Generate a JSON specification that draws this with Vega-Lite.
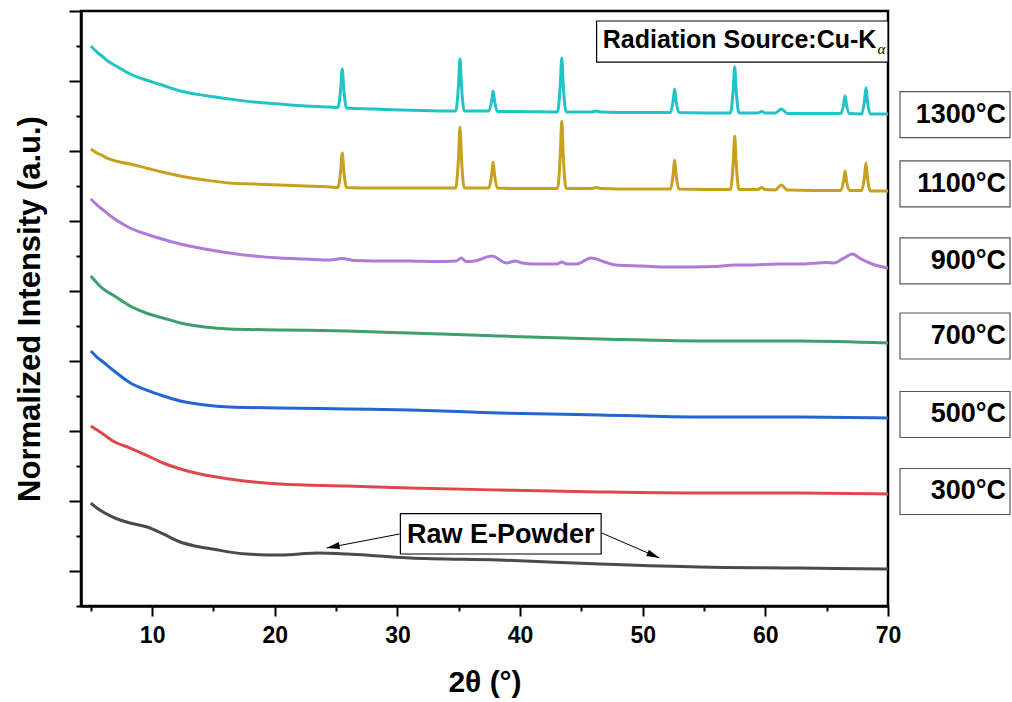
{
  "$schema": "https://vega.github.io/schema/vega-lite/v6.json",
  "width": 807,
  "height": 595,
  "autosize": "none",
  "padding": {"left": 81, "top": 11, "right": 124, "bottom": 96},
  "background": "white",
  "config": {
    "font": "Liberation Sans",
    "view": {"stroke": "black", "strokeWidth": 2.5}
  },
  "resolve": {"axis": {"x": "independent", "y": "independent"}},
  "layer": [
    {
      "data": {
        "values": [
          {"sample": "Raw E-Powder", "twoTheta": 5.0, "intensity": 0.971},
          {"sample": "Raw E-Powder", "twoTheta": 5.5, "intensity": 0.9},
          {"sample": "Raw E-Powder", "twoTheta": 6.0, "intensity": 0.843},
          {"sample": "Raw E-Powder", "twoTheta": 6.8, "intensity": 0.771},
          {"sample": "Raw E-Powder", "twoTheta": 8.2, "intensity": 0.686},
          {"sample": "Raw E-Powder", "twoTheta": 9.6, "intensity": 0.629},
          {"sample": "Raw E-Powder", "twoTheta": 10.9, "intensity": 0.529},
          {"sample": "Raw E-Powder", "twoTheta": 12.3, "intensity": 0.414},
          {"sample": "Raw E-Powder", "twoTheta": 13.5, "intensity": 0.357},
          {"sample": "Raw E-Powder", "twoTheta": 14.9, "intensity": 0.314},
          {"sample": "Raw E-Powder", "twoTheta": 17.7, "intensity": 0.243},
          {"sample": "Raw E-Powder", "twoTheta": 20.4, "intensity": 0.229},
          {"sample": "Raw E-Powder", "twoTheta": 22.0, "intensity": 0.243},
          {"sample": "Raw E-Powder", "twoTheta": 23.5, "intensity": 0.257},
          {"sample": "Raw E-Powder", "twoTheta": 25.9, "intensity": 0.243},
          {"sample": "Raw E-Powder", "twoTheta": 28.5, "intensity": 0.214},
          {"sample": "Raw E-Powder", "twoTheta": 31.0, "intensity": 0.186},
          {"sample": "Raw E-Powder", "twoTheta": 38.3, "intensity": 0.157},
          {"sample": "Raw E-Powder", "twoTheta": 46.5, "intensity": 0.1},
          {"sample": "Raw E-Powder", "twoTheta": 54.6, "intensity": 0.057},
          {"sample": "Raw E-Powder", "twoTheta": 62.8, "intensity": 0.043},
          {"sample": "Raw E-Powder", "twoTheta": 70.0, "intensity": 0.029},

          {"sample": "300°C", "twoTheta": 5.0, "intensity": 2.071},
          {"sample": "300°C", "twoTheta": 5.5, "intensity": 2.014},
          {"sample": "300°C", "twoTheta": 6.0, "intensity": 1.957},
          {"sample": "300°C", "twoTheta": 6.8, "intensity": 1.857},
          {"sample": "300°C", "twoTheta": 8.2, "intensity": 1.757},
          {"sample": "300°C", "twoTheta": 9.5, "intensity": 1.657},
          {"sample": "300°C", "twoTheta": 10.9, "intensity": 1.543},
          {"sample": "300°C", "twoTheta": 12.3, "intensity": 1.457},
          {"sample": "300°C", "twoTheta": 14.3, "intensity": 1.371},
          {"sample": "300°C", "twoTheta": 16.3, "intensity": 1.314},
          {"sample": "300°C", "twoTheta": 18.3, "intensity": 1.271},
          {"sample": "300°C", "twoTheta": 20.4, "intensity": 1.243},
          {"sample": "300°C", "twoTheta": 25.9, "intensity": 1.214},
          {"sample": "300°C", "twoTheta": 31.0, "intensity": 1.186},
          {"sample": "300°C", "twoTheta": 38.3, "intensity": 1.157},
          {"sample": "300°C", "twoTheta": 46.5, "intensity": 1.129},
          {"sample": "300°C", "twoTheta": 54.6, "intensity": 1.114},
          {"sample": "300°C", "twoTheta": 62.8, "intensity": 1.114},
          {"sample": "300°C", "twoTheta": 70.0, "intensity": 1.1},

          {"sample": "500°C", "twoTheta": 5.0, "intensity": 3.143},
          {"sample": "500°C", "twoTheta": 5.5, "intensity": 3.057},
          {"sample": "500°C", "twoTheta": 6.0, "intensity": 2.986},
          {"sample": "500°C", "twoTheta": 6.8, "intensity": 2.871},
          {"sample": "500°C", "twoTheta": 8.2, "intensity": 2.69},
          {"sample": "500°C", "twoTheta": 9.5, "intensity": 2.586},
          {"sample": "500°C", "twoTheta": 10.9, "intensity": 2.5},
          {"sample": "500°C", "twoTheta": 12.3, "intensity": 2.429},
          {"sample": "500°C", "twoTheta": 14.3, "intensity": 2.371},
          {"sample": "500°C", "twoTheta": 16.3, "intensity": 2.343},
          {"sample": "500°C", "twoTheta": 20.4, "intensity": 2.329},
          {"sample": "500°C", "twoTheta": 25.9, "intensity": 2.314},
          {"sample": "500°C", "twoTheta": 31.0, "intensity": 2.3},
          {"sample": "500°C", "twoTheta": 38.3, "intensity": 2.257},
          {"sample": "500°C", "twoTheta": 46.5, "intensity": 2.229},
          {"sample": "500°C", "twoTheta": 54.6, "intensity": 2.2},
          {"sample": "500°C", "twoTheta": 62.8, "intensity": 2.2},
          {"sample": "500°C", "twoTheta": 70.0, "intensity": 2.186},

          {"sample": "700°C", "twoTheta": 5.0, "intensity": 4.214},
          {"sample": "700°C", "twoTheta": 5.5, "intensity": 4.114},
          {"sample": "700°C", "twoTheta": 6.0, "intensity": 4.029},
          {"sample": "700°C", "twoTheta": 6.8, "intensity": 3.943},
          {"sample": "700°C", "twoTheta": 8.2, "intensity": 3.786},
          {"sample": "700°C", "twoTheta": 9.5, "intensity": 3.686},
          {"sample": "700°C", "twoTheta": 10.9, "intensity": 3.614},
          {"sample": "700°C", "twoTheta": 12.3, "intensity": 3.543},
          {"sample": "700°C", "twoTheta": 14.3, "intensity": 3.486},
          {"sample": "700°C", "twoTheta": 16.3, "intensity": 3.457},
          {"sample": "700°C", "twoTheta": 20.4, "intensity": 3.443},
          {"sample": "700°C", "twoTheta": 25.9, "intensity": 3.429},
          {"sample": "700°C", "twoTheta": 31.0, "intensity": 3.4},
          {"sample": "700°C", "twoTheta": 38.3, "intensity": 3.357},
          {"sample": "700°C", "twoTheta": 46.5, "intensity": 3.314},
          {"sample": "700°C", "twoTheta": 54.6, "intensity": 3.286},
          {"sample": "700°C", "twoTheta": 62.8, "intensity": 3.286},
          {"sample": "700°C", "twoTheta": 70.0, "intensity": 3.257},

          {"sample": "900°C", "twoTheta": 5.0, "intensity": 5.314},
          {"sample": "900°C", "twoTheta": 5.5, "intensity": 5.229},
          {"sample": "900°C", "twoTheta": 6.0, "intensity": 5.157},
          {"sample": "900°C", "twoTheta": 6.5, "intensity": 5.086},
          {"sample": "900°C", "twoTheta": 7.2, "intensity": 5.0},
          {"sample": "900°C", "twoTheta": 8.2, "intensity": 4.9},
          {"sample": "900°C", "twoTheta": 9.5, "intensity": 4.814},
          {"sample": "900°C", "twoTheta": 10.8, "intensity": 4.743},
          {"sample": "900°C", "twoTheta": 12.3, "intensity": 4.671},
          {"sample": "900°C", "twoTheta": 14.3, "intensity": 4.6},
          {"sample": "900°C", "twoTheta": 16.3, "intensity": 4.543},
          {"sample": "900°C", "twoTheta": 18.3, "intensity": 4.5},
          {"sample": "900°C", "twoTheta": 20.4, "intensity": 4.471},
          {"sample": "900°C", "twoTheta": 22.5, "intensity": 4.457},
          {"sample": "900°C", "twoTheta": 24.5, "intensity": 4.443},
          {"sample": "900°C", "twoTheta": 25.5, "intensity": 4.464},
          {"sample": "900°C", "twoTheta": 26.5, "intensity": 4.436},
          {"sample": "900°C", "twoTheta": 28.0, "intensity": 4.429},
          {"sample": "900°C", "twoTheta": 31.0, "intensity": 4.429},
          {"sample": "900°C", "twoTheta": 33.0, "intensity": 4.421},
          {"sample": "900°C", "twoTheta": 34.8, "intensity": 4.429},
          {"sample": "900°C", "twoTheta": 35.2, "intensity": 4.471},
          {"sample": "900°C", "twoTheta": 35.6, "intensity": 4.421},
          {"sample": "900°C", "twoTheta": 36.3, "intensity": 4.429},
          {"sample": "900°C", "twoTheta": 37.7, "intensity": 4.5},
          {"sample": "900°C", "twoTheta": 38.9, "intensity": 4.4},
          {"sample": "900°C", "twoTheta": 39.6, "intensity": 4.429},
          {"sample": "900°C", "twoTheta": 40.2, "intensity": 4.4},
          {"sample": "900°C", "twoTheta": 41.0, "intensity": 4.386},
          {"sample": "900°C", "twoTheta": 43.0, "intensity": 4.386},
          {"sample": "900°C", "twoTheta": 43.4, "intensity": 4.414},
          {"sample": "900°C", "twoTheta": 43.8, "intensity": 4.386},
          {"sample": "900°C", "twoTheta": 44.6, "intensity": 4.386},
          {"sample": "900°C", "twoTheta": 45.8, "intensity": 4.471},
          {"sample": "900°C", "twoTheta": 46.9, "intensity": 4.414},
          {"sample": "900°C", "twoTheta": 47.8, "intensity": 4.371},
          {"sample": "900°C", "twoTheta": 50.0, "intensity": 4.357},
          {"sample": "900°C", "twoTheta": 52.0, "intensity": 4.343},
          {"sample": "900°C", "twoTheta": 54.0, "intensity": 4.343},
          {"sample": "900°C", "twoTheta": 56.0, "intensity": 4.35},
          {"sample": "900°C", "twoTheta": 57.5, "intensity": 4.371},
          {"sample": "900°C", "twoTheta": 59.0, "intensity": 4.371},
          {"sample": "900°C", "twoTheta": 61.0, "intensity": 4.386},
          {"sample": "900°C", "twoTheta": 63.0, "intensity": 4.386},
          {"sample": "900°C", "twoTheta": 65.0, "intensity": 4.407},
          {"sample": "900°C", "twoTheta": 65.6, "intensity": 4.4},
          {"sample": "900°C", "twoTheta": 66.4, "intensity": 4.471},
          {"sample": "900°C", "twoTheta": 67.1, "intensity": 4.529},
          {"sample": "900°C", "twoTheta": 67.8, "intensity": 4.457},
          {"sample": "900°C", "twoTheta": 68.7, "intensity": 4.386},
          {"sample": "900°C", "twoTheta": 70.0, "intensity": 4.329},

          {"sample": "1100°C", "twoTheta": 5.0, "intensity": 6.029},
          {"sample": "1100°C", "twoTheta": 5.5, "intensity": 5.971},
          {"sample": "1100°C", "twoTheta": 6.0, "intensity": 5.929},
          {"sample": "1100°C", "twoTheta": 6.5, "intensity": 5.886},
          {"sample": "1100°C", "twoTheta": 7.2, "intensity": 5.85},
          {"sample": "1100°C", "twoTheta": 8.2, "intensity": 5.814},
          {"sample": "1100°C", "twoTheta": 9.5, "intensity": 5.757},
          {"sample": "1100°C", "twoTheta": 10.8, "intensity": 5.7},
          {"sample": "1100°C", "twoTheta": 12.3, "intensity": 5.643},
          {"sample": "1100°C", "twoTheta": 14.3, "intensity": 5.586},
          {"sample": "1100°C", "twoTheta": 16.3, "intensity": 5.543},
          {"sample": "1100°C", "twoTheta": 18.3, "intensity": 5.529},
          {"sample": "1100°C", "twoTheta": 20.4, "intensity": 5.514},
          {"sample": "1100°C", "twoTheta": 22.5, "intensity": 5.5},
          {"sample": "1100°C", "twoTheta": 24.5, "intensity": 5.486},
          {"sample": "1100°C", "twoTheta": 25.15, "intensity": 5.479},
          {"sample": "1100°C", "twoTheta": 25.38, "intensity": 5.729},
          {"sample": "1100°C", "twoTheta": 25.5, "intensity": 5.971},
          {"sample": "1100°C", "twoTheta": 25.62, "intensity": 5.729},
          {"sample": "1100°C", "twoTheta": 25.85, "intensity": 5.479},
          {"sample": "1100°C", "twoTheta": 28.0, "intensity": 5.471},
          {"sample": "1100°C", "twoTheta": 30.2, "intensity": 5.471},
          {"sample": "1100°C", "twoTheta": 34.75, "intensity": 5.471},
          {"sample": "1100°C", "twoTheta": 34.98, "intensity": 5.9},
          {"sample": "1100°C", "twoTheta": 35.1, "intensity": 6.343},
          {"sample": "1100°C", "twoTheta": 35.22, "intensity": 5.9},
          {"sample": "1100°C", "twoTheta": 35.45, "intensity": 5.471},
          {"sample": "1100°C", "twoTheta": 37.45, "intensity": 5.471},
          {"sample": "1100°C", "twoTheta": 37.68, "intensity": 5.657},
          {"sample": "1100°C", "twoTheta": 37.8, "intensity": 5.843},
          {"sample": "1100°C", "twoTheta": 37.92, "intensity": 5.657},
          {"sample": "1100°C", "twoTheta": 38.15, "intensity": 5.471},
          {"sample": "1100°C", "twoTheta": 40.0, "intensity": 5.464},
          {"sample": "1100°C", "twoTheta": 43.05, "intensity": 5.464},
          {"sample": "1100°C", "twoTheta": 43.28, "intensity": 5.943},
          {"sample": "1100°C", "twoTheta": 43.4, "intensity": 6.429},
          {"sample": "1100°C", "twoTheta": 43.52, "intensity": 5.943},
          {"sample": "1100°C", "twoTheta": 43.75, "intensity": 5.464},
          {"sample": "1100°C", "twoTheta": 45.8, "intensity": 5.464},
          {"sample": "1100°C", "twoTheta": 46.2, "intensity": 5.479},
          {"sample": "1100°C", "twoTheta": 46.6, "intensity": 5.464},
          {"sample": "1100°C", "twoTheta": 48.0, "intensity": 5.457},
          {"sample": "1100°C", "twoTheta": 52.25, "intensity": 5.457},
          {"sample": "1100°C", "twoTheta": 52.48, "intensity": 5.664},
          {"sample": "1100°C", "twoTheta": 52.6, "intensity": 5.871},
          {"sample": "1100°C", "twoTheta": 52.72, "intensity": 5.664},
          {"sample": "1100°C", "twoTheta": 52.95, "intensity": 5.457},
          {"sample": "1100°C", "twoTheta": 55.0, "intensity": 5.45},
          {"sample": "1100°C", "twoTheta": 57.15, "intensity": 5.45},
          {"sample": "1100°C", "twoTheta": 57.38, "intensity": 5.829},
          {"sample": "1100°C", "twoTheta": 57.5, "intensity": 6.214},
          {"sample": "1100°C", "twoTheta": 57.62, "intensity": 5.829},
          {"sample": "1100°C", "twoTheta": 57.85, "intensity": 5.45},
          {"sample": "1100°C", "twoTheta": 59.4, "intensity": 5.45},
          {"sample": "1100°C", "twoTheta": 59.7, "intensity": 5.479},
          {"sample": "1100°C", "twoTheta": 60.0, "intensity": 5.45},
          {"sample": "1100°C", "twoTheta": 60.8, "intensity": 5.443},
          {"sample": "1100°C", "twoTheta": 61.3, "intensity": 5.514},
          {"sample": "1100°C", "twoTheta": 61.8, "intensity": 5.443},
          {"sample": "1100°C", "twoTheta": 64.0, "intensity": 5.436},
          {"sample": "1100°C", "twoTheta": 66.15, "intensity": 5.436},
          {"sample": "1100°C", "twoTheta": 66.38, "intensity": 5.571},
          {"sample": "1100°C", "twoTheta": 66.5, "intensity": 5.714},
          {"sample": "1100°C", "twoTheta": 66.62, "intensity": 5.571},
          {"sample": "1100°C", "twoTheta": 66.85, "intensity": 5.436},
          {"sample": "1100°C", "twoTheta": 67.85, "intensity": 5.436},
          {"sample": "1100°C", "twoTheta": 68.08, "intensity": 5.629},
          {"sample": "1100°C", "twoTheta": 68.2, "intensity": 5.829},
          {"sample": "1100°C", "twoTheta": 68.32, "intensity": 5.629},
          {"sample": "1100°C", "twoTheta": 68.55, "intensity": 5.429},
          {"sample": "1100°C", "twoTheta": 70.0, "intensity": 5.429},

          {"sample": "1300°C", "twoTheta": 5.0, "intensity": 7.5},
          {"sample": "1300°C", "twoTheta": 5.5, "intensity": 7.414},
          {"sample": "1300°C", "twoTheta": 6.0, "intensity": 7.343},
          {"sample": "1300°C", "twoTheta": 6.5, "intensity": 7.271},
          {"sample": "1300°C", "twoTheta": 7.2, "intensity": 7.2},
          {"sample": "1300°C", "twoTheta": 8.2, "intensity": 7.1},
          {"sample": "1300°C", "twoTheta": 9.5, "intensity": 7.014},
          {"sample": "1300°C", "twoTheta": 10.8, "intensity": 6.943},
          {"sample": "1300°C", "twoTheta": 12.3, "intensity": 6.857},
          {"sample": "1300°C", "twoTheta": 14.3, "intensity": 6.793},
          {"sample": "1300°C", "twoTheta": 16.3, "intensity": 6.743},
          {"sample": "1300°C", "twoTheta": 18.3, "intensity": 6.7},
          {"sample": "1300°C", "twoTheta": 20.4, "intensity": 6.671},
          {"sample": "1300°C", "twoTheta": 22.5, "intensity": 6.643},
          {"sample": "1300°C", "twoTheta": 24.5, "intensity": 6.629},
          {"sample": "1300°C", "twoTheta": 25.15, "intensity": 6.621},
          {"sample": "1300°C", "twoTheta": 25.38, "intensity": 6.9},
          {"sample": "1300°C", "twoTheta": 25.5, "intensity": 7.171},
          {"sample": "1300°C", "twoTheta": 25.62, "intensity": 6.9},
          {"sample": "1300°C", "twoTheta": 25.85, "intensity": 6.614},
          {"sample": "1300°C", "twoTheta": 28.0, "intensity": 6.6},
          {"sample": "1300°C", "twoTheta": 30.2, "intensity": 6.586},
          {"sample": "1300°C", "twoTheta": 32.0, "intensity": 6.579},
          {"sample": "1300°C", "twoTheta": 34.75, "intensity": 6.571},
          {"sample": "1300°C", "twoTheta": 34.98, "intensity": 6.943},
          {"sample": "1300°C", "twoTheta": 35.1, "intensity": 7.314},
          {"sample": "1300°C", "twoTheta": 35.22, "intensity": 6.943},
          {"sample": "1300°C", "twoTheta": 35.45, "intensity": 6.571},
          {"sample": "1300°C", "twoTheta": 37.45, "intensity": 6.571},
          {"sample": "1300°C", "twoTheta": 37.68, "intensity": 6.714},
          {"sample": "1300°C", "twoTheta": 37.8, "intensity": 6.857},
          {"sample": "1300°C", "twoTheta": 37.92, "intensity": 6.714},
          {"sample": "1300°C", "twoTheta": 38.15, "intensity": 6.564},
          {"sample": "1300°C", "twoTheta": 40.0, "intensity": 6.564},
          {"sample": "1300°C", "twoTheta": 43.05, "intensity": 6.557},
          {"sample": "1300°C", "twoTheta": 43.28, "intensity": 6.943},
          {"sample": "1300°C", "twoTheta": 43.4, "intensity": 7.329},
          {"sample": "1300°C", "twoTheta": 43.52, "intensity": 6.943},
          {"sample": "1300°C", "twoTheta": 43.75, "intensity": 6.557},
          {"sample": "1300°C", "twoTheta": 45.8, "intensity": 6.557},
          {"sample": "1300°C", "twoTheta": 46.2, "intensity": 6.571},
          {"sample": "1300°C", "twoTheta": 46.6, "intensity": 6.557},
          {"sample": "1300°C", "twoTheta": 48.0, "intensity": 6.55},
          {"sample": "1300°C", "twoTheta": 52.25, "intensity": 6.55},
          {"sample": "1300°C", "twoTheta": 52.48, "intensity": 6.714},
          {"sample": "1300°C", "twoTheta": 52.6, "intensity": 6.886},
          {"sample": "1300°C", "twoTheta": 52.72, "intensity": 6.714},
          {"sample": "1300°C", "twoTheta": 52.95, "intensity": 6.55},
          {"sample": "1300°C", "twoTheta": 55.0, "intensity": 6.543},
          {"sample": "1300°C", "twoTheta": 57.15, "intensity": 6.543},
          {"sample": "1300°C", "twoTheta": 57.38, "intensity": 6.871},
          {"sample": "1300°C", "twoTheta": 57.5, "intensity": 7.2},
          {"sample": "1300°C", "twoTheta": 57.62, "intensity": 6.871},
          {"sample": "1300°C", "twoTheta": 57.85, "intensity": 6.543},
          {"sample": "1300°C", "twoTheta": 59.4, "intensity": 6.543},
          {"sample": "1300°C", "twoTheta": 59.7, "intensity": 6.564},
          {"sample": "1300°C", "twoTheta": 60.0, "intensity": 6.543},
          {"sample": "1300°C", "twoTheta": 60.8, "intensity": 6.543},
          {"sample": "1300°C", "twoTheta": 61.3, "intensity": 6.6},
          {"sample": "1300°C", "twoTheta": 61.8, "intensity": 6.536},
          {"sample": "1300°C", "twoTheta": 64.0, "intensity": 6.536},
          {"sample": "1300°C", "twoTheta": 66.15, "intensity": 6.536},
          {"sample": "1300°C", "twoTheta": 66.38, "intensity": 6.657},
          {"sample": "1300°C", "twoTheta": 66.5, "intensity": 6.786},
          {"sample": "1300°C", "twoTheta": 66.62, "intensity": 6.657},
          {"sample": "1300°C", "twoTheta": 66.85, "intensity": 6.536},
          {"sample": "1300°C", "twoTheta": 67.85, "intensity": 6.529},
          {"sample": "1300°C", "twoTheta": 68.08, "intensity": 6.714},
          {"sample": "1300°C", "twoTheta": 68.2, "intensity": 6.904},
          {"sample": "1300°C", "twoTheta": 68.32, "intensity": 6.714},
          {"sample": "1300°C", "twoTheta": 68.55, "intensity": 6.529},
          {"sample": "1300°C", "twoTheta": 70.0, "intensity": 6.529}
        ]
      },
      "mark": {"type": "line", "strokeWidth": 3, "interpolate": "monotone", "clip": true},
      "encoding": {
        "x": {
          "field": "twoTheta",
          "type": "quantitative",
          "scale": {"domain": [4.2, 70], "nice": false, "zero": false},
          "axis": {
            "orient": "bottom",
            "title": "2θ (°)",
            "titleFont": "Liberation Sans",
            "titleFontSize": 30,
            "titleFontWeight": "bold",
            "titleColor": "black",
            "titlePadding": 20,
            "values": [10, 20, 30, 40, 50, 60, 70],
            "labelFont": "Liberation Sans",
            "labelFontSize": 23,
            "labelFontWeight": "bold",
            "labelColor": "black",
            "labelPadding": 8,
            "labelOverlap": false,
            "labelFlush": false,
            "grid": false,
            "domainColor": "black",
            "domainWidth": 2.5,
            "tickColor": "black",
            "tickWidth": 2,
            "tickSize": 10
          }
        },
        "y": {
          "field": "intensity",
          "type": "quantitative",
          "scale": {"domain": [-0.5, 8], "nice": false, "zero": false},
          "axis": {
            "orient": "left",
            "title": "Normalized Intensity (a.u.)",
            "titleFont": "Liberation Sans",
            "titleFontSize": 31,
            "titleFontWeight": "bold",
            "titleColor": "black",
            "titlePadding": 22,
            "values": [0, 1, 2, 3, 4, 5, 6, 7, 8],
            "labels": false,
            "grid": false,
            "domainColor": "black",
            "domainWidth": 2.5,
            "tickColor": "black",
            "tickWidth": 2,
            "tickSize": 12
          }
        },
        "color": {
          "field": "sample",
          "type": "nominal",
          "legend": null,
          "scale": {
            "domain": ["Raw E-Powder", "300°C", "500°C", "700°C", "900°C", "1100°C", "1300°C"],
            "range": ["#4a4a4a", "#e0474c", "#2366cf", "#3c9f6c", "#b07bd8", "#c9a01e", "#22c3c6"]
          }
        }
      }
    },
    {
      "data": {
        "values": [
          {"twoTheta": 46.24, "twoTheta2": 70, "intensity": 7.857, "intensity2": 7.271},
          {"twoTheta": 30.24, "twoTheta2": 46.61, "intensity": 0.819, "intensity2": 0.243}
        ]
      },
      "mark": {"type": "rect", "fill": "white", "stroke": "black", "strokeWidth": 1.2},
      "encoding": {
        "x": {
          "field": "twoTheta",
          "type": "quantitative",
          "axis": {
            "orient": "bottom",
            "title": null,
            "values": [5, 15, 25, 35, 45, 55, 65],
            "labels": false,
            "grid": false,
            "domain": false,
            "tickColor": "black",
            "tickWidth": 2,
            "tickSize": 5
          }
        },
        "x2": {"field": "twoTheta2"},
        "y": {
          "field": "intensity",
          "type": "quantitative",
          "axis": {
            "orient": "left",
            "title": null,
            "values": [-0.5, 0.5, 1.5, 2.5, 3.5, 4.5, 5.5, 6.5, 7.5],
            "labels": false,
            "grid": false,
            "domain": false,
            "tickColor": "black",
            "tickWidth": 2,
            "tickSize": 5
          }
        },
        "y2": {"field": "intensity2"}
      }
    },
    {
      "data": {
        "values": [
          {"label": "1300°C", "intensity": 6.521},
          {"label": "1100°C", "intensity": 5.529},
          {"label": "900°C", "intensity": 4.429},
          {"label": "700°C", "intensity": 3.357},
          {"label": "500°C", "intensity": 2.236},
          {"label": "300°C", "intensity": 1.136}
        ]
      },
      "layer": [
        {
          "mark": {"type": "rect", "fill": "white", "stroke": "#555555", "strokeWidth": 1.2, "xOffset": 12, "x2Offset": 122, "yOffset": -23, "y2Offset": 23},
          "encoding": {
            "x": {"datum": 70, "type": "quantitative", "axis": null},
            "x2": {"datum": 70},
            "y": {"field": "intensity", "type": "quantitative", "axis": null},
            "y2": {"field": "intensity"}
          }
        },
        {
          "mark": {"type": "text", "align": "right", "baseline": "middle", "dx": 118, "font": "Liberation Sans", "fontSize": 27, "fontWeight": "bold", "color": "black"},
          "encoding": {
            "x": {"datum": 70, "type": "quantitative", "axis": null},
            "y": {"field": "intensity", "type": "quantitative", "axis": null},
            "text": {"field": "label"}
          }
        }
      ]
    },
    {
      "data": {"values": [{"text": "Radiation Source:Cu-K", "twoTheta": 69.05, "intensity": 7.476}]},
      "mark": {"type": "text", "align": "right", "baseline": "alphabetic", "font": "Liberation Sans", "fontSize": 25, "fontWeight": "bold", "color": "black"},
      "encoding": {
        "x": {"field": "twoTheta", "type": "quantitative", "axis": null},
        "y": {"field": "intensity", "type": "quantitative", "axis": null},
        "text": {"field": "text"}
      }
    },
    {
      "data": {"values": [{"text": "α", "twoTheta": 69.15, "intensity": 7.381}]},
      "mark": {"type": "text", "align": "left", "baseline": "alphabetic", "font": "Liberation Serif", "fontSize": 15, "fontStyle": "italic", "color": "black"},
      "encoding": {
        "x": {"field": "twoTheta", "type": "quantitative", "axis": null},
        "y": {"field": "intensity", "type": "quantitative", "axis": null},
        "text": {"field": "text"}
      }
    },
    {
      "data": {"values": [{"text": "Raw E-Powder", "twoTheta": 38.42, "intensity": 0.404}]},
      "mark": {"type": "text", "align": "center", "baseline": "alphabetic", "font": "Liberation Sans", "fontSize": 27, "fontWeight": "bold", "color": "black"},
      "encoding": {
        "x": {"field": "twoTheta", "type": "quantitative", "axis": null},
        "y": {"field": "intensity", "type": "quantitative", "axis": null},
        "text": {"field": "text"}
      }
    },
    {
      "data": {
        "values": [
          {"twoTheta": 30.18, "intensity": 0.529, "twoTheta2": 24.23, "intensity2": 0.329},
          {"twoTheta": 46.65, "intensity": 0.543, "twoTheta2": 51.37, "intensity2": 0.186}
        ]
      },
      "mark": {"type": "rule", "color": "black", "strokeWidth": 1},
      "encoding": {
        "x": {"field": "twoTheta", "type": "quantitative", "axis": null},
        "x2": {"field": "twoTheta2"},
        "y": {"field": "intensity", "type": "quantitative", "axis": null},
        "y2": {"field": "intensity2"}
      }
    },
    {
      "data": {"values": [{"twoTheta": 24.23, "intensity": 0.329}]},
      "mark": {"type": "point", "shape": "M0,0L1.5,-0.4L1.5,0.4Z", "filled": true, "color": "black", "opacity": 1, "size": 300, "angle": 349},
      "encoding": {
        "x": {"field": "twoTheta", "type": "quantitative", "axis": null},
        "y": {"field": "intensity", "type": "quantitative", "axis": null}
      }
    },
    {
      "data": {"values": [{"twoTheta": 51.37, "intensity": 0.186}]},
      "mark": {"type": "point", "shape": "M0,0L1.5,-0.4L1.5,0.4Z", "filled": true, "color": "black", "opacity": 1, "size": 300, "angle": 203},
      "encoding": {
        "x": {"field": "twoTheta", "type": "quantitative", "axis": null},
        "y": {"field": "intensity", "type": "quantitative", "axis": null}
      }
    }
  ]
}
